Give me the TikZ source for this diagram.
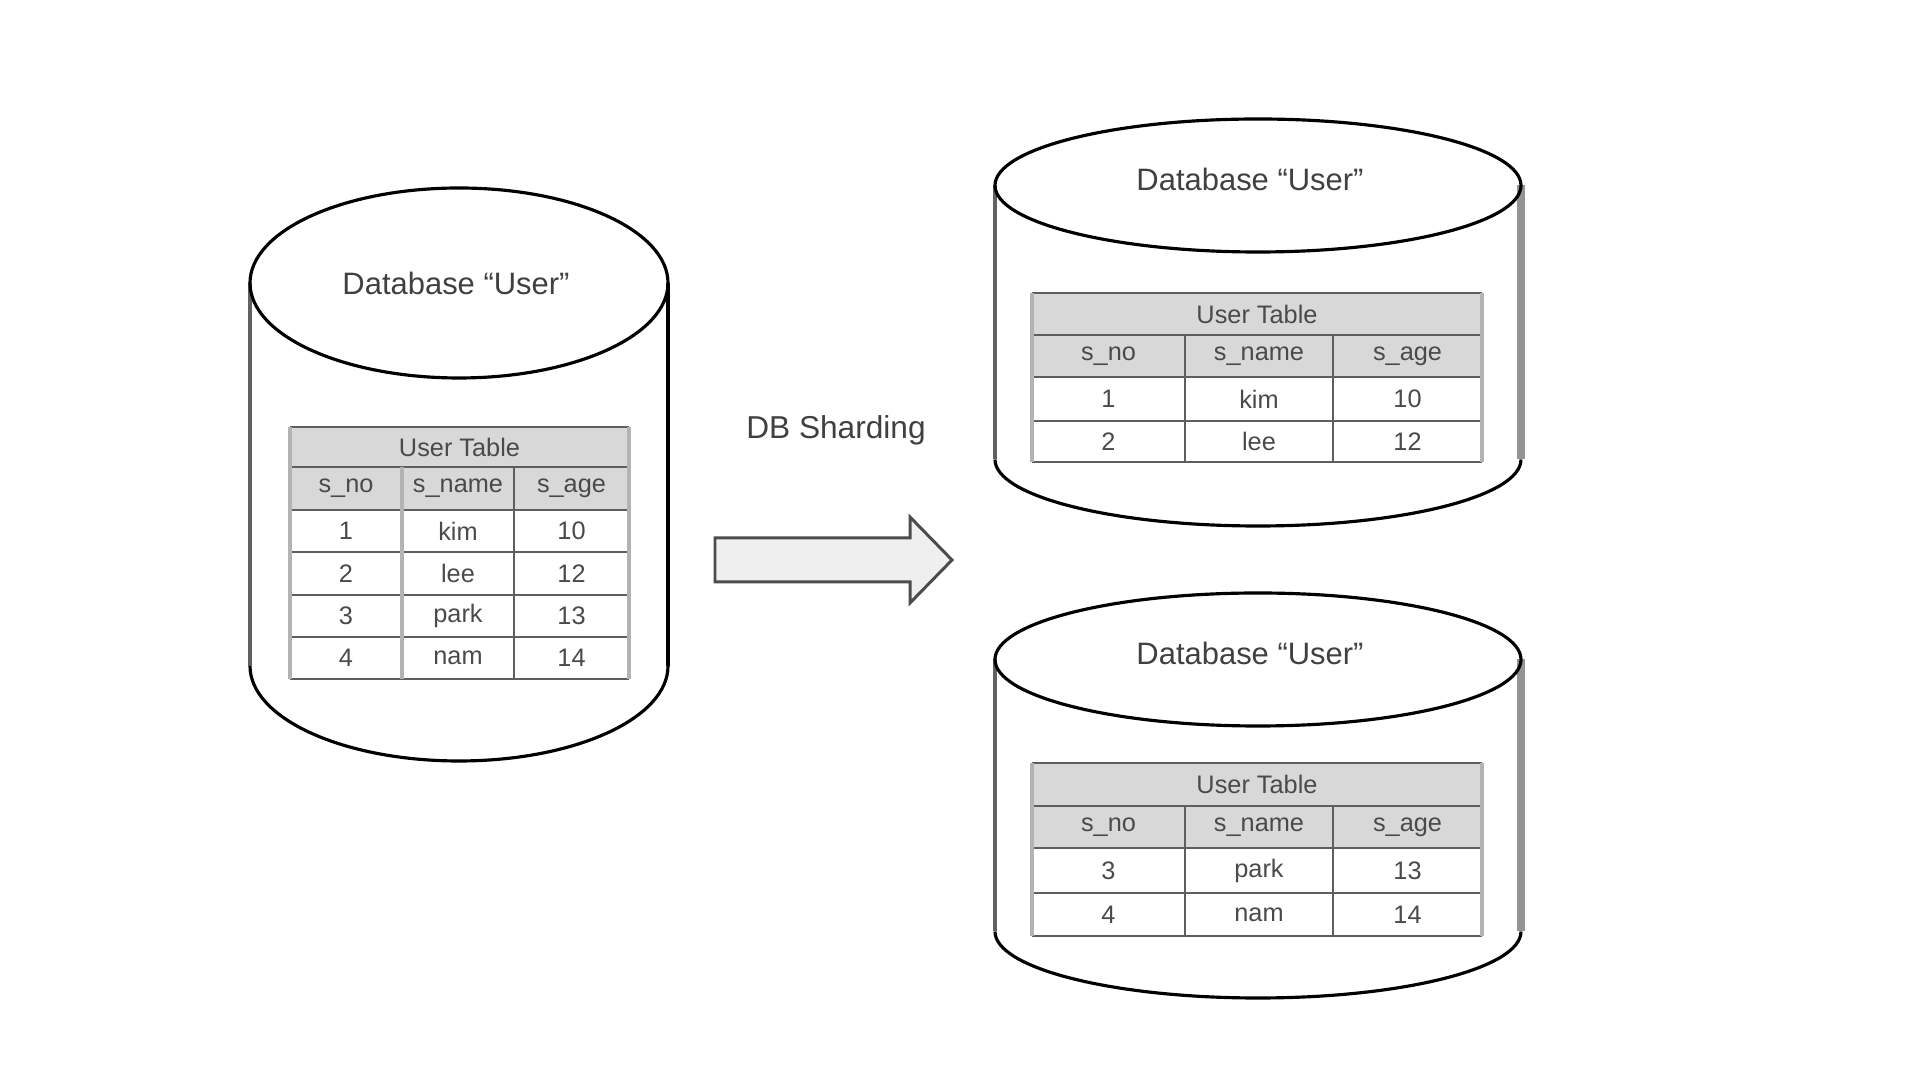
\documentclass[tikz,border=0pt]{standalone}
\usepackage{fontspec}
\setmainfont{Liberation Sans}
\setsansfont{Liberation Sans}
\definecolor{hdrgray}{HTML}{D8D8D8}
\definecolor{linegray}{HTML}{5E5E5E}
\definecolor{sidegray}{HTML}{B3B3B3}
\definecolor{txtgray}{HTML}{4A4A4A}
\definecolor{arrowfill}{HTML}{EFEFEF}

\begin{document}
\begin{tikzpicture}[
    x=0.01cm, y=-0.01cm,
    every node/.style={font=\sffamily, text=txtgray, inner sep=0pt},
    % Stile per il contorno dei cilindri
    dbline/.style={draw=black, line width=0.9pt},
    % Lati dei cilindri
    leftside/.style={draw=black!62, line width=1.2pt},
    rightside/.style={draw=black, line width=1.2pt},
    grayside/.style={draw=black!42, line width=2.4pt},
    % Stile per le etichette dei database
    dbname/.style={font=\sffamily\fontsize{8.8}{10}\selectfont, text=black!75},
    % Stili per le tabelle
    hdr/.style={fill=hdrgray},
    rowline/.style={draw=linegray, line width=0.75pt},
    sideline/.style={draw=sidegray, line width=1.1pt},
    cell/.style={font=\sffamily\fontsize{7.2}{8}\selectfont},
    % Freccia di sharding
    arrowbox/.style={fill=arrowfill, draw=black!70, line width=0.85pt, line join=miter}
]
\useasboundingbox (0,0) rectangle (1920,1080);

% --- CILINDRO SINISTRO ---
\draw[leftside] (250,283) -- (250,666);
\draw[rightside] (668,283) -- (668,666);
\draw[dbline] (250,666) arc[start angle=180, end angle=0, x radius=209, y radius=95];
\draw[dbline] (459,283) ellipse[x radius=209, y radius=95];
\node[dbname] (db-left) at (456,283) {Database “User”};

% Tabella sinistra (4 righe)
\fill[hdr] (290,427) rectangle (629,510);
\foreach \y in {427,467,510,552,595,637,679}
    \draw[rowline] (290,\y) -- (629,\y);
\draw[sideline] (290,427) -- (290,679) (629,427) -- (629,679) (402,467) -- (402,679);
\draw[rowline] (514,467) -- (514,679);
\node[cell] (lt-title) at (459.5,447) {User Table};
\foreach \h/\x [count=\c] in {s\_no/346, s\_name/458, s\_age/571.5}
    \node[cell] (lt-h\c) at (\x,488.5) {\h};
\foreach \no/\name/\age [count=\i] in {1/kim/10, 2/lee/12, 3/park/13, 4/nam/14} {
    \node[cell] (lt-no\i) at (346,{489+42.25*\i}) {\no};
    \node[cell] (lt-name\i) at (458,{489+42.25*\i}) {\name};
    \node[cell] (lt-age\i) at (571.5,{489+42.25*\i}) {\age};
}

% --- FRECCIA ---
\node[font=\sffamily\fontsize{9}{10}\selectfont, text=black!75] (shard-label) at (836,430) {DB Sharding};
\draw[arrowbox] (715,538) -- (910,538) -- (910,517) -- (952,560)
    -- (910,603) -- (910,582) -- (715,582) -- cycle;

% --- CILINDRO DESTRO IN ALTO ---
\draw[leftside] (995,185.5) -- (995,459.5);
\draw[grayside] (1521,185.5) -- (1521,459.5);
\draw[dbline] (995,459.5) arc[start angle=180, end angle=0, x radius=263, y radius=66.5];
\draw[dbline] (1258,185.5) ellipse[x radius=263, y radius=66.5];
\node[dbname] (db-top) at (1250,179) {Database “User”};

% Tabella in alto (righe 1-2)
\fill[hdr] (1032,293) rectangle (1482,377);
\foreach \y in {293,335,377,421,462}
    \draw[rowline] (1032,\y) -- (1482,\y);
\draw[sideline] (1032,293) -- (1032,462) (1482,293) -- (1482,462);
\draw[rowline] (1185,335) -- (1185,462) (1333,335) -- (1333,462);
\node[cell] (rt-title) at (1257,314) {User Table};
\foreach \h/\x [count=\c] in {s\_no/1108.5, s\_name/1259, s\_age/1407.5}
    \node[cell] (rt-h\c) at (\x,356) {\h};
\foreach \no/\name/\age/\y in {1/kim/10/399, 2/lee/12/441.5} {
    \node[cell] (rt-no\no) at (1108.5,\y) {\no};
    \node[cell] (rt-name\no) at (1259,\y) {\name};
    \node[cell] (rt-age\no) at (1407.5,\y) {\age};
}

% --- CILINDRO DESTRO IN BASSO ---
\draw[leftside] (995,659.5) -- (995,931.5);
\draw[grayside] (1521,659.5) -- (1521,931.5);
\draw[dbline] (995,931.5) arc[start angle=180, end angle=0, x radius=263, y radius=66.5];
\draw[dbline] (1258,659.5) ellipse[x radius=263, y radius=66.5];
\node[dbname] (db-bot) at (1250,653) {Database “User”};

% Tabella in basso (righe 3-4)
\fill[hdr] (1032,763) rectangle (1482,848);
\foreach \y in {763,806,848,893,936}
    \draw[rowline] (1032,\y) -- (1482,\y);
\draw[sideline] (1032,763) -- (1032,936) (1482,763) -- (1482,936);
\draw[rowline] (1185,806) -- (1185,936) (1333,806) -- (1333,936);
\node[cell] (rb-title) at (1257,784.5) {User Table};
\foreach \h/\x [count=\c] in {s\_no/1108.5, s\_name/1259, s\_age/1407.5}
    \node[cell] (rb-h\c) at (\x,827) {\h};
\foreach \no/\name/\age/\y in {3/park/13/870.5, 4/nam/14/914.5} {
    \node[cell] (rb-no\no) at (1108.5,\y) {\no};
    \node[cell] (rb-name\no) at (1259,\y) {\name};
    \node[cell] (rb-age\no) at (1407.5,\y) {\age};
}

\end{tikzpicture}
\end{document}
